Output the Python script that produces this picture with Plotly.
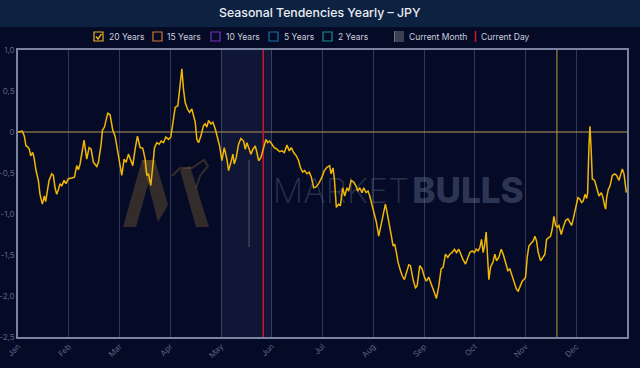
import plotly.graph_objects as go

# ---------------- data ----------------
months = ["Jan", "Feb", "Mar", "Apr", "May", "Jun", "Jul", "Aug", "Sep", "Oct", "Nov", "Dec"]
y_ticks = [1.0, 0.5, 0.0, -0.5, -1.0, -1.5, -2.0, -2.5]
y_tick_labels = ["1,0", "0,5", "0", "-0,5", "-1,0", "-1,5", "-2,0", "-2,5"]

# day of year (approx.) and 20-year seasonal tendency values
days = [0, 2.6, 3.8, 4.8, 5.8, 6.8, 7.6, 8.8, 9.6, 10.8, 12.2, 13.2, 14.6, 15.8, 16.6, 17.8, 18.6, 20.2, 21.2, 22.2,
        23.2, 24.2, 25.2, 26.2, 27.6, 28.8, 30.2, 32.2, 33.8, 35.2, 36.2, 37.2, 38.2, 39.6, 41.2, 42.6, 43.8, 45.2, 47.2, 48.2,
        49.8, 50.6, 51.8, 52.6, 53.8, 55.2, 56.8, 58.2, 60.2, 62.2, 63.6, 64.8, 66.2, 67.2, 68.8, 70.2, 71.6, 73.2, 74.8, 76.2,
        77.2, 78.2, 79.6, 80.8, 81.8, 83.2, 84.6, 85.8, 87.2, 88.6, 90.2, 91.6, 92.8, 94.2, 95.8, 96.8, 97.6, 98.2, 99.2, 100.2,
        101.6, 102.8, 104.2, 105.2, 106.2, 107.2, 108.2, 109.6, 111.2, 112.2, 113.2, 114.2, 115.6, 116.8, 118.2, 119.6, 120.8, 122.2, 123.6, 125.2,
        126.2, 127.6, 128.8, 129.6, 130.8, 132.2, 133.6, 135.2, 136.2, 137.2, 138.6, 139.6, 140.8, 142.2, 143.2, 144.2, 145.6, 146.6, 147.8, 148.6,
        149.6, 150.8, 152.2, 153.6, 155.2, 156.8, 158.2, 159.6, 161.2, 162.6, 163.8, 165.2, 166.8, 168.2, 169.2, 170.6, 171.8, 173.2, 174.6, 175.8,
        177.2, 178.6, 180.2, 182.2, 183.6, 185.2, 186.8, 187.6, 188.8, 189.6, 190.8, 192.2, 193.2, 194.6, 195.8, 197.2, 198.2, 199.6, 201.2, 202.6,
        203.6, 204.8, 206.2, 207.2, 208.6, 209.8, 210.8, 212.2, 213.6, 214.8, 216.2, 217.6, 218.8, 220.2, 221.2, 222.6, 223.8, 224.8, 225.8, 226.8,
        227.8, 229.2, 230.2, 231.6, 232.8, 234.2, 235.2, 236.8, 238.2, 239.2, 240.8, 242.2, 243.6, 244.8, 246.2, 247.6, 249.2, 250.8, 252.2, 253.6,
        254.8, 256.2, 257.6, 258.8, 260.2, 261.6, 262.8, 264.2, 265.2, 266.6, 268.2, 269.6, 270.8, 272.2, 273.6, 274.6, 275.8, 276.8, 277.8, 278.8,
        279.6, 280.6, 281.6, 282.2, 283.2, 284.6, 285.8, 286.8, 288.2, 289.6, 290.8, 292.2, 293.6, 294.8, 296.2, 297.6, 298.8, 299.8, 301.2, 302.2,
        303.2, 304.2, 305.2, 306.2, 307.8, 308.8, 309.8, 310.8, 311.8, 313.2, 314.6, 315.8, 316.8, 317.8, 319.2, 320.2, 321.2, 322.2, 323.2, 324.2,
        325.6, 326.8, 328.2, 329.6, 330.6, 331.8, 332.8, 334.2, 335.6, 336.8, 337.8, 338.8, 339.8, 340.8, 341.4, 342.2, 342.8, 343.6, 344.2, 345.6,
        346.8, 348.2, 349.6, 350.6, 351.6, 352.2, 352.8, 353.8, 354.8, 356.2, 357.6, 358.8, 360.2, 361.2, 362.2, 363.2, 364.6]

values_20y = [0.00, 0.01, -0.05, -0.17, -0.18, -0.21, -0.29, -0.25, -0.31, -0.47, -0.59, -0.76, -0.88, -0.78, -0.85, -0.72, -0.59, -0.51, -0.53, -0.68,
              -0.76, -0.70, -0.63, -0.66, -0.59, -0.63, -0.57, -0.56, -0.55, -0.41, -0.46, -0.39, -0.25, -0.10, -0.33, -0.19, -0.21, -0.37, -0.42, -0.37,
              -0.15, 0.02, 0.06, 0.14, 0.23, 0.21, 0.02, -0.05, -0.27, -0.53, -0.33, -0.37, -0.27, -0.33, -0.41, -0.21, -0.05, -0.19, -0.20, -0.33,
              -0.53, -0.51, -0.65, -0.41, -0.19, -0.13, -0.15, -0.11, -0.13, -0.06, -0.09, -0.06, 0.14, 0.30, 0.32, 0.48, 0.65, 0.77, 0.52, 0.36,
              0.28, 0.24, 0.28, 0.18, 0.12, -0.09, -0.13, -0.05, 0.08, 0.10, 0.06, 0.14, 0.10, 0.12, 0.04, -0.07, -0.17, -0.35, -0.19, -0.33,
              -0.47, -0.37, -0.27, -0.39, -0.31, -0.15, -0.08, -0.11, -0.21, -0.13, -0.23, -0.27, -0.21, -0.17, -0.25, -0.35, -0.31, -0.23, -0.15, -0.09,
              -0.13, -0.11, -0.15, -0.19, -0.21, -0.24, -0.23, -0.25, -0.16, -0.23, -0.19, -0.25, -0.29, -0.35, -0.43, -0.49, -0.47, -0.51, -0.49, -0.55,
              -0.68, -0.67, -0.63, -0.55, -0.47, -0.43, -0.41, -0.51, -0.44, -0.57, -0.92, -0.88, -0.90, -0.68, -0.78, -0.68, -0.72, -0.59, -0.61, -0.66,
              -0.72, -0.68, -0.74, -0.68, -0.74, -0.72, -0.78, -0.90, -1.00, -1.10, -1.27, -1.14, -1.00, -0.88, -0.98, -1.12, -1.27, -1.39, -1.37, -1.47,
              -1.59, -1.69, -1.75, -1.80, -1.71, -1.62, -1.63, -1.80, -1.90, -1.88, -1.63, -1.67, -1.77, -1.82, -1.77, -1.86, -1.94, -2.03, -1.88, -1.67,
              -1.65, -1.49, -1.53, -1.49, -1.47, -1.43, -1.47, -1.43, -1.49, -1.55, -1.61, -1.53, -1.47, -1.45, -1.47, -1.43, -1.45, -1.41, -1.31, -1.47,
              -1.39, -1.22, -1.53, -1.80, -1.65, -1.59, -1.49, -1.57, -1.53, -1.43, -1.49, -1.59, -1.69, -1.67, -1.75, -1.84, -1.92, -1.94, -1.88, -1.82,
              -1.80, -1.77, -1.53, -1.39, -1.35, -1.33, -1.27, -1.33, -1.47, -1.57, -1.53, -1.49, -1.31, -1.29, -1.27, -1.18, -1.03, -1.14, -1.16, -1.14,
              -1.25, -1.16, -1.08, -1.06, -1.10, -1.14, -1.06, -0.94, -0.80, -0.82, -0.86, -0.84, -0.76, -0.81, -0.74, -0.17, 0.07, -0.25, -0.57, -0.59,
              -0.68, -0.78, -0.74, -0.80, -0.90, -0.94, -0.80, -0.70, -0.66, -0.53, -0.51, -0.53, -0.59, -0.53, -0.45, -0.51, -0.74]

current_month_index = 4      # May
current_day = 147            # day of year
marker_day = 323             # other vertical marker

assert len(days) == len(values_20y), (len(days), len(values_20y))

# ---------------- layout helpers ----------------
W, H = 640, 368
L, R, T, B = 18, 627, 50, 337
DAYS_IN_YEAR = 365
month_starts = [i * DAYS_IN_YEAR / 12 for i in range(12)]


def pxx(x):  # pixel -> paper x
    return (x - L) / (R - L)


def pxy(y):  # pixel -> paper y
    return (B - y) / (B - T)


def dx(x):  # pixel -> data x
    return (x - L) * DAYS_IN_YEAR / (R - L)


def dy(y):  # pixel -> data y
    return 1.0 - (y - T) * 3.5 / (B - T)


def ppath(points, close=True):
    s = "M " + " L ".join(f"{pxx(a):.5f},{pxy(b):.5f}" for a, b in points)
    return s + (" Z" if close else "")


BG = "#050b27"
FONT = "Inter"

fig = go.Figure()

# watermark (behind the line)
fig.add_trace(go.Scatter(x=[dx(341)], y=[dy(194)], mode="text", text=["MARKET"],
                         textfont=dict(family=FONT, size=34, color="rgba(120,130,165,0.33)", weight=200),
                         hoverinfo="skip", showlegend=False))
fig.add_trace(go.Scatter(x=[dx(468)], y=[dy(194)], mode="text", text=["BULLS"],
                         textfont=dict(family=FONT, size=35, color="rgba(105,115,150,0.42)", weight=800),
                         hoverinfo="skip", showlegend=False))

fig.add_trace(go.Scatter(x=days, y=values_20y, mode="lines",
                         line=dict(color="#f2b705", width=1.5),
                         hoverinfo="skip", showlegend=False))

shapes = []
# title bar
shapes.append(dict(type="rect", xref="paper", yref="paper", x0=pxx(0), x1=pxx(W), y0=pxy(27), y1=pxy(0),
                   fillcolor="#0d2240", line=dict(width=0), layer="below"))
# current month shading
shapes.append(dict(type="rect", xref="x", yref="y", x0=month_starts[current_month_index],
                   x1=month_starts[current_month_index + 1], y0=-2.5, y1=1.0,
                   fillcolor="rgba(120,130,180,0.10)", line=dict(width=0), layer="below"))
# logo (watermark)
logo_col = "rgba(120,95,50,0.40)"
shapes.append(dict(type="path", xref="paper", yref="paper", layer="below", line=dict(width=0), fillcolor=logo_col,
                   path=ppath([(123, 227), (136, 227), (155, 160), (142, 160)])))
shapes.append(dict(type="path", xref="paper", yref="paper", layer="below", line=dict(width=0), fillcolor=logo_col,
                   path=ppath([(142, 160), (155, 160), (168, 205), (158, 222)])))
shapes.append(dict(type="path", xref="paper", yref="paper", layer="below", line=dict(width=0), fillcolor=logo_col,
                   path=ppath([(180, 170), (190, 166), (209, 227), (196, 227)])))
shapes.append(dict(type="path", xref="paper", yref="paper", layer="below", line=dict(color=logo_col, width=2),
                   path=ppath([(172, 176), (180, 168), (192, 168), (204, 160), (208, 166), (200, 176), (196, 188)], close=False)))
shapes.append(dict(type="line", xref="paper", yref="paper", layer="below", x0=pxx(249), x1=pxx(249), y0=pxy(160), y1=pxy(247),
                   line=dict(color="rgba(120,120,130,0.45)", width=1.5)))
# zero line
shapes.append(dict(type="line", xref="x", yref="y", x0=0, x1=DAYS_IN_YEAR, y0=0, y1=0,
                   line=dict(color="rgba(175,145,85,0.7)", width=1.5), layer="between"))
# current day line
shapes.append(dict(type="line", xref="x", yref="y", x0=current_day, x1=current_day, y0=-2.5, y1=1.0,
                   line=dict(color="#d0142c", width=1.5), layer="between"))
# other marker line
shapes.append(dict(type="line", xref="x", yref="y", x0=marker_day, x1=marker_day, y0=-2.5, y1=1.0,
                   line=dict(color="rgba(190,150,60,0.85)", width=1.2), layer="between"))

# legend icons
legend_items = [
    ("20 Years", "#e9b51c", 94, 107),
    ("15 Years", "#d4792a", 153, 165),
    ("10 Years", "#7a2fc0", 211, 224),
    ("5 Years", "#1d6fa5", 269, 282),
    ("2 Years", "#1b8f8f", 323, 336),
]
LEG_SIZE = 8.5
annotations = []
for name, col, bx, tx in legend_items:
    shapes.append(dict(type="rect", xref="paper", yref="paper", x0=pxx(bx), x1=pxx(bx + 9), y0=pxy(41), y1=pxy(32),
                       line=dict(color=col, width=1.2), fillcolor="rgba(0,0,0,0)"))
    annotations.append(dict(x=pxx(tx), y=pxy(36.5), xref="paper", yref="paper", text=name, showarrow=False,
                            xanchor="left", yanchor="middle", font=dict(family=FONT, size=LEG_SIZE, color="#c9cfdc")))
# check mark for active series
shapes.append(dict(type="path", xref="paper", yref="paper", line=dict(color="#e9b51c", width=1.4),
                   path=ppath([(96, 36.5), (98, 39), (101.5, 33.8)], close=False)))
# current month icon
shapes.append(dict(type="rect", xref="paper", yref="paper", x0=pxx(394), x1=pxx(404), y0=pxy(42), y1=pxy(31),
                   fillcolor="#3c4152", line=dict(width=0)))
shapes.append(dict(type="line", xref="paper", yref="paper", x0=pxx(394.5), x1=pxx(394.5), y0=pxy(42), y1=pxy(31),
                   line=dict(color="#6a7085", width=1)))
annotations.append(dict(x=pxx(407), y=pxy(36.5), xref="paper", yref="paper", text="Current Month", showarrow=False,
                        xanchor="left", yanchor="middle", font=dict(family=FONT, size=LEG_SIZE, color="#c9cfdc")))
# current day icon
shapes.append(dict(type="line", xref="paper", yref="paper", x0=pxx(475.5), x1=pxx(475.5), y0=pxy(42), y1=pxy(31),
                   line=dict(color="#d0142c", width=1.5)))
annotations.append(dict(x=pxx(479), y=pxy(36.5), xref="paper", yref="paper", text="Current Day", showarrow=False,
                        xanchor="left", yanchor="middle", font=dict(family=FONT, size=LEG_SIZE, color="#c9cfdc")))
# title
annotations.append(dict(x=pxx(320), y=pxy(13), xref="paper", yref="paper", text="Seasonal Tendencies Yearly – JPY",
                        showarrow=False, xanchor="center", yanchor="middle",
                        font=dict(family=FONT, size=12.3, color="#e9edf5", weight=500)))

fig.update_layout(
    width=W, height=H,
    margin=dict(l=L, r=W - R, t=T, b=H - B, autoexpand=False),
    paper_bgcolor=BG, plot_bgcolor=BG,
    font=dict(family=FONT),
    shapes=shapes, annotations=annotations,
    showlegend=False,
    xaxis=dict(range=[0, DAYS_IN_YEAR], tickmode="array", tickvals=month_starts, ticktext=months,
               tickangle=-45, tickfont=dict(size=8, color="#5c6485", family=FONT),
               showgrid=True, gridcolor="rgba(140,150,185,0.33)", gridwidth=1,
               showline=True, mirror=True, linecolor="#7a839f", linewidth=1.5,
               zeroline=False, ticks="", automargin=False, fixedrange=True),
    yaxis=dict(range=[-2.5, 1.0], tickmode="array", tickvals=y_ticks, ticktext=y_tick_labels,
               tickfont=dict(size=8, color="#5c6485", family=FONT),
               showgrid=False, showline=True, mirror=True, linecolor="#7a839f", linewidth=1.5,
               zeroline=False, ticks="", automargin=False, fixedrange=True),
)

fig.write_html("out.html", config={"displayModeBar": False},
               post_script="document.body.style.margin='0';document.body.style.background='" + BG + "';")
